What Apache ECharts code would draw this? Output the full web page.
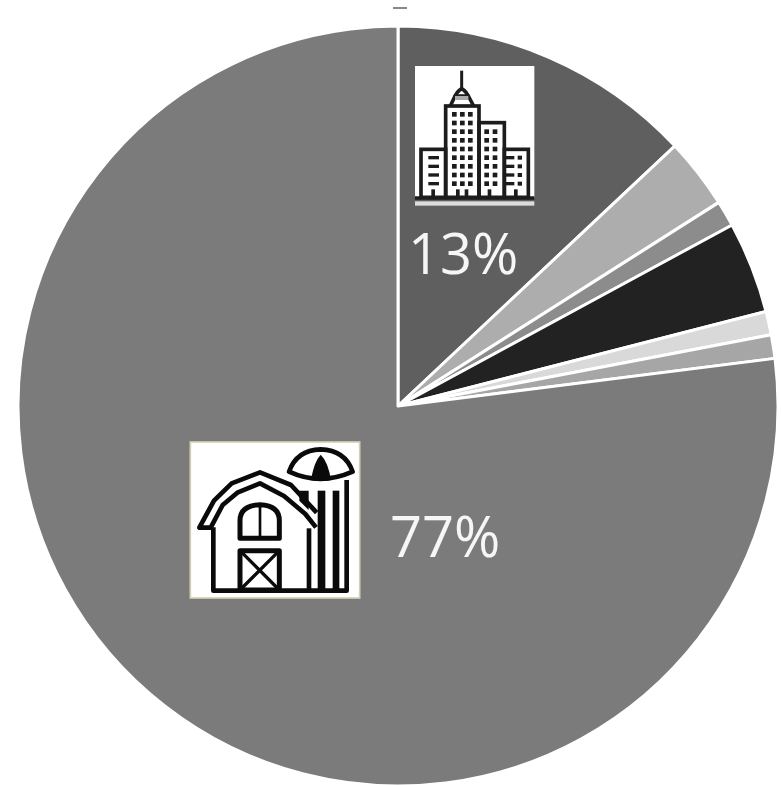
<!DOCTYPE html>
<html>
<head>
<meta charset="utf-8">
<style>html,body{margin:0;padding:0;background:#fff}#c{width:781px;height:785px}</style>
<script src="https://cdn.jsdelivr.net/npm/echarts@6/dist/echarts.min.js"></script>
</head>
<body>
<div id="c"></div>
<script>
// Land-use shares, clockwise from twelve o'clock
const sliceNames = ['Urban', 'B', 'C', 'D', 'E', 'F', 'Rural'];
const sliceValues = [13, 3, 1.1, 3.9, 1, 1, 77];
const sliceColors = ['#5f5f5f', '#adadad', '#8c8c8c', '#222222', '#d9d9d9', '#a6a6a6', '#7b7b7b'];
const labelledSlices = { 0: [408, 230], 6: [390, 513] };

// Skyline pictogram, drawn in a 420x450 box
function cityIcon() {
  const k = '#1c1c1c';
  let s = `<svg xmlns="http://www.w3.org/2000/svg" width="140" height="150" viewBox="0 0 420 450">`;
  s += `<rect x="30" y="18" width="358" height="396" fill="#fff"/><rect x="30" y="424" width="358" height="13" fill="#dcdcdc"/>`;
  s += `<g fill="none" stroke="${k}" stroke-width="11">`;
  s += `<path d="M170 32V88" stroke-width="9"/><path d="M150 112Q154 95 170 86Q186 95 190 112"/>`;
  s += `<path d="M136 138L150 108H190L206 138"/>`;
  s += `<rect x="122" y="138" width="100" height="274"/><rect x="222" y="188" width="76" height="224"/>`;
  s += `<rect x="48" y="268" width="74" height="144"/><rect x="298" y="268" width="72" height="144"/>`;
  s += `<path d="M30 414H388"/></g><g fill="${k}">`;
  for (const y of [163, 189, 215, 241, 267, 293, 319, 345, 371]) {
    for (const x of [148, 172, 196]) s += `<rect x="${x - 7}" y="${y - 7}" width="14" height="14"/>`;
    if (y > 200) for (const x of [245, 270]) s += `<rect x="${x - 7}" y="${y - 7}" width="14" height="14"/>`;
    if (y > 280) {
      s += `<rect x="70" y="${y - 5}" width="32" height="10"/><rect x="302" y="${y - 5}" width="26" height="10"/>`;
      s += `<rect x="338" y="${y - 6}" width="13" height="12"/>`;
    }
  }
  for (const x of [84, 158, 184, 253, 332]) s += `<rect x="${x - 5}" y="388" width="11" height="24"/>`;
  return s + `<rect x="150" y="108" width="40" height="12" fill="#aaa"/></g></svg>`;
}

// Barn and silo pictogram, drawn in a 570x540 box
function barnIcon() {
  const k = '#0a0a0a';
  let s = `<svg xmlns="http://www.w3.org/2000/svg" width="190" height="180" viewBox="0 0 570 540">`;
  s += `<rect x="31" y="36" width="508" height="468" fill="#fff" stroke="#d6cfb8" stroke-width="5"/>`;
  s += `<g fill="none" stroke="${k}" stroke-width="14" stroke-linejoin="round">`;
  s += `<path d="M410 248L333 165L240 127L155 160L102 212L58 293H92L128 225L172 188L240 160L312 198L376 252L408 292"/>`;
  s += `<path d="M100 292V482H500V150"/><path d="M387 295V482"/>`;
  s += `<path d="M327 125Q350 60 422 58Q495 60 518 125Q420 168 327 125Z"/>`;
  s += `<path d="M180 325V272Q180 226 240 224Q298 226 298 272V325Z" stroke-width="15"/><path d="M240 224V325" stroke-width="8"/>`;
  s += `<rect x="180" y="362" width="118" height="118" stroke-width="15"/>`;
  s += `<path d="M180 362L298 480M298 362L180 480" stroke-width="10"/></g>`;
  s += `<g fill="${k}"><path d="M393 150Q402 95 422 74Q444 95 453 150Q422 156 393 150Z"/>`;
  s += `<rect x="413" y="182" width="23" height="300"/><rect x="458" y="182" width="20" height="300"/>`;
  s += `<path d="M358 182H386V240L358 212Z"/></g></svg>`;
  return s;
}
const svgUri = svg => 'data:image/svg+xml;charset=utf-8,' + encodeURIComponent(svg);

const chart = echarts.init(document.getElementById('c'), null, { renderer: 'canvas' });
chart.setOption({
  animation: false,
  backgroundColor: '#fff',
  series: [{
    type: 'pie',
    center: [398, 406],
    radius: [0, 380],
    startAngle: 90,
    clockwise: true,
    avoidLabelOverlap: false,
    silent: true,
    itemStyle: { borderColor: '#fff', borderWidth: 3 },
    labelLine: { show: false },
    label: {
      show: true,
      position: 'inside',
      color: '#f6f6f6',
      fontFamily: 'Open Sans',
      fontSize: 56,
      align: 'left',
      verticalAlign: 'top',
      formatter: p => p.value + '%'
    },
    labelLayout: p => {
      const at = labelledSlices[p.dataIndex];
      return at ? { x: at[0], y: at[1], align: 'left', verticalAlign: 'top' } : {};
    },
    data: sliceValues.map((v, i) => ({
      name: sliceNames[i],
      value: v,
      itemStyle: { color: sliceColors[i] },
      label: { show: i in labelledSlices }
    }))
  }],
  graphic: [
    { type: 'image', z: 10, style: { image: svgUri(cityIcon()), x: 405, y: 60, width: 140, height: 150 } },
    { type: 'image', z: 10, style: { image: svgUri(barnIcon()), x: 180, y: 430, width: 190, height: 180 } },
    { type: 'rect', z: 10, shape: { x: 393, y: 7, width: 14, height: 2 }, style: { fill: '#888' } }
  ]
});
</script>
</body>
</html>
